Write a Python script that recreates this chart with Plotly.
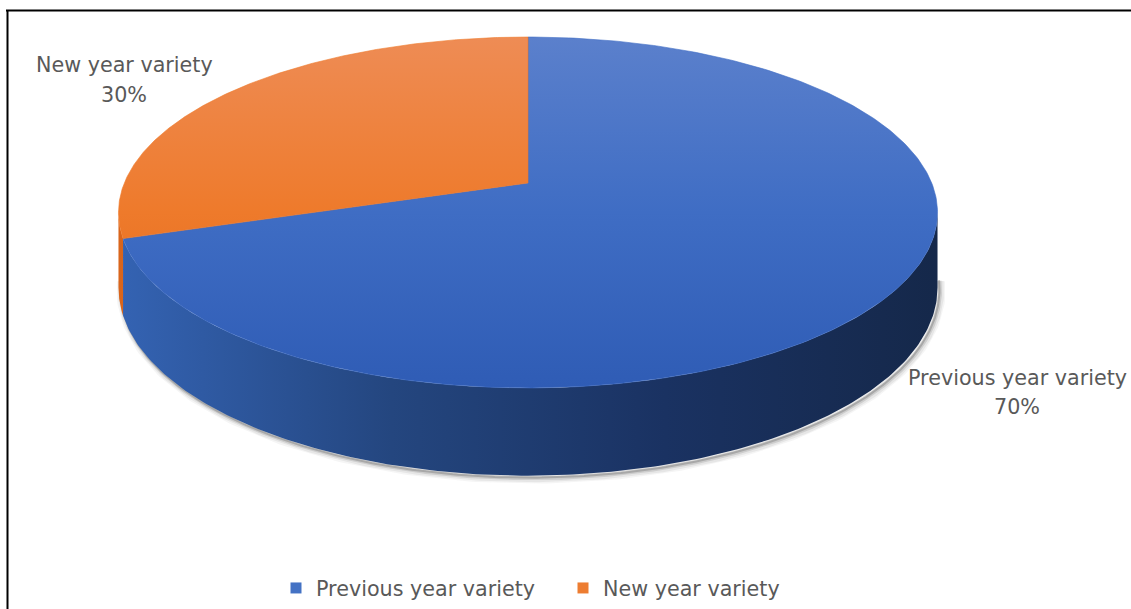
import numpy as np
import plotly.graph_objects as go

# ---- data ----
labels = ["Previous year variety", "New year variety"]
values = [70, 30]

# top-face gradient stops (far edge -> near edge) and side gradient (left -> right)
top_colors = [
    ["#5B80CC", "#3F6DC4", "#2F5CB5"],
    ["#EE8C55", "#EE7A2B", "#E0661A"],
]
side_colors = [
    ["#3463B3", "#24467F", "#1A3262", "#15284A"],
    ["#D9651C", "#C55A11", "#B8520F", "#A94B0E"],
]
legend_colors = ["#4472C4", "#ED7D31"]
text_color = "#595959"
font_family = "DejaVu Sans"
font_size = 20.7

# ---- 3D pie geometry (screen pixels) ----
W, H = 1131, 609
X0, Y0 = 528.0, 183.0      # projected pie centre
A, B = 403.7, 170.5        # horizontal / vertical radii before perspective
C = 0.168                  # perspective strength
D = 73.0                   # thickness


def project(alpha, z):
    u = np.sin(alpha)
    v = np.cos(alpha)
    w = 1 + C * v
    x = X0 + A * u / w
    y = Y0 - (B * v - D * z) / w
    return x, y


total = float(sum(values))
bounds = np.concatenate([[0.0], np.cumsum(values) / total * 2 * np.pi])

vis_lo = np.arccos(-C)
vis_hi = 2 * np.pi - vis_lo

fig = go.Figure()

# soft shadow around the lower rim
ash = np.linspace(vis_lo - 0.05, vis_hi + 0.05, 300)
sx, sy = project(ash, 1)
for width, op, off in [(10, 0.05, 3), (7, 0.08, 3), (4, 0.14, 2.5), (2, 0.25, 2)]:
    fig.add_trace(go.Scatter(
        x=sx + off, y=sy + off, mode="lines",
        line=dict(color="rgba(60,60,60,%.2f)" % op, width=width),
        hoverinfo="skip", showlegend=False))

# side walls
for i in range(len(values)):
    lo = max(bounds[i], vis_lo)
    hi = min(bounds[i + 1], vis_hi)
    if hi <= lo:
        continue
    a = np.linspace(lo, hi, 200)
    tx, ty = project(a, 0)
    bx, by = project(a[::-1], 1)
    xs = np.concatenate([tx, bx, tx[:1]])
    ys = np.concatenate([ty, by, ty[:1]])
    cols = side_colors[i]
    fig.add_trace(go.Scatter(
        x=xs, y=ys, mode="lines", fill="toself",
        line=dict(width=0, color=cols[0]),
        fillgradient=dict(
            type="horizontal", start=X0 - A * 1.015, stop=X0 + A * 1.015,
            colorscale=[[k / (len(cols) - 1), c] for k, c in enumerate(cols)]),
        hoverinfo="skip", showlegend=False))

# top faces
ytop = project(0.0, 0)[1]
ybot = project(np.pi, 0)[1]
for i in range(len(values)):
    a = np.linspace(bounds[i], bounds[i + 1], 300)
    ax_, ay_ = project(a, 0)
    xs = np.concatenate([[X0], ax_, [X0]])
    ys = np.concatenate([[Y0], ay_, [Y0]])
    cols = top_colors[i]
    fig.add_trace(go.Scatter(
        x=xs, y=ys, mode="lines", fill="toself",
        line=dict(width=0.6, color=cols[1]),
        fillgradient=dict(
            type="vertical", start=ytop, stop=ybot,
            colorscale=[[k / (len(cols) - 1), c] for k, c in enumerate(cols)]),
        hoverinfo="skip", showlegend=False))

# legend entries
for lab, col in zip(labels, legend_colors):
    fig.add_trace(go.Scatter(
        x=[None], y=[None], mode="markers", name=lab,
        marker=dict(symbol="square", size=11, color=col)))

# data labels
label_pos = [(1017, 378, 407), (124, 65, 95)]
for lab, val, (lx, ly1, ly2) in zip(labels, values, label_pos):
    pct = "%d%%" % round(val / total * 100)
    for txt, ly in [(lab, ly1), (pct, ly2)]:
        fig.add_annotation(x=lx, y=ly, text=txt, showarrow=False,
                           xanchor="center", yanchor="middle",
                           font=dict(family=font_family, size=font_size, color=text_color))

# frame
fig.add_shape(type="line", x0=6, x1=W, y0=10.5, y1=10.5,
              line=dict(color="black", width=2))
fig.add_shape(type="line", x0=7.5, x1=7.5, y0=10, y1=H,
              line=dict(color="black", width=2))

fig.update_layout(
    width=W, height=H,
    margin=dict(l=0, r=0, t=0, b=0),
    paper_bgcolor="white", plot_bgcolor="white",
    xaxis=dict(range=[0, W], visible=False, fixedrange=True),
    yaxis=dict(range=[H, 0], visible=False, fixedrange=True),
    showlegend=True,
    legend=dict(orientation="h", x=276 / W, xanchor="left",
                y=1 - 588 / H, yanchor="middle",
                entrywidth=242, entrywidthmode="pixels",
                font=dict(family=font_family, size=font_size, color=text_color),
                itemwidth=30, bgcolor="rgba(0,0,0,0)"),
    font=dict(family=font_family, color=text_color),
)

fig.write_html("out.html")
